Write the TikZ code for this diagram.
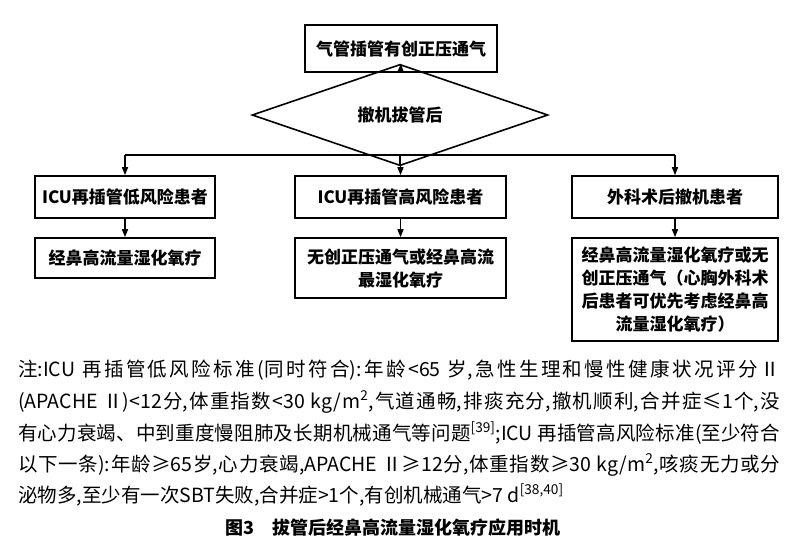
\documentclass[tikz,border=0pt]{standalone}
\usepackage{fontspec}
\setmainfont{Noto Sans CJK SC}
\usetikzlibrary{shapes.geometric,arrows.meta}
\XeTeXlinebreaklocale "zh"
\XeTeXlinebreakskip=0pt plus 2pt
\begin{document}
\begin{tikzpicture}[x=1pt,y=-1pt,
 box/.style={draw,line width=1.6pt,inner sep=0pt,font=\fontsize{17}{23}\selectfont\bfseries,align=center},
 arr/.style={line width=1.3pt,-{Triangle[length=8pt,width=6pt]}},
 ln/.style={line width=1.3pt},
 note/.style={anchor=base west,inner sep=0pt,text width=762pt,align=justify,font=\fontsize{19.5}{31}\selectfont}]
\useasboundingbox[fill=white] (0,0) rectangle (786,544);

\node[box,minimum width=192pt,minimum height=47pt] (top) at (401,48.5) {气管插管有创正压通气};
\node[box,diamond,minimum width=296pt,minimum height=54pt] (dia) at (400,115) {撤机拔管后};

\node[box,minimum width=180pt,minimum height=42pt] (b1) at (125,197) {ICU再插管低风险患者};
\node[box,minimum width=211pt,minimum height=42pt] (b2) at (400.5,197) {ICU再插管高风险患者};
\node[box,minimum width=206pt,minimum height=42pt] (b3) at (675,197) {外科术后撤机患者};

\node[box,minimum width=180pt,minimum height=40pt] (b4) at (125,258) {经鼻高流量湿化氧疗};
\node[box,minimum width=211pt,minimum height=60pt] (b5) at (400.5,268) {无创正压通气或经鼻高流\\最湿化氧疗};
\node[box,minimum width=206pt,minimum height=103pt] (b6) at (675,289.5) {经鼻高流量湿化氧疗或无\\创正压通气（心胸外科术\\后患者可优先考虑经鼻高\\流量湿化氧疗）};

\coordinate (j) at (400,155);
\draw[arr] (top) -- (dia);
\draw[ln] (dia.south) -- (j);
\draw[ln] (j -| b1.north) -- (j -| b3.north);
\draw[arr] (j -| b1.north) -- (b1.north);
\draw[arr] (j -| b2.north) -- (b2.north);
\draw[arr] (j -| b3.north) -- (b3.north);
\draw[arr] (b1) -- (b4);
\draw[arr] (b2) -- (b5);
\draw[arr] (b3) -- (b6);

\node[note] (n1) at (18,376) {\parfillskip=0pt 注:ICU 再插管低风险标准(同时符合):年龄<65 岁,急性生理和慢性健康状况评分Ⅱ\par};
\node[note] (n2) at (18,408) {\parfillskip=0pt (APACHE Ⅱ)<12分,体重指数<30 kg/m\textsuperscript{2},气道通畅,排痰充分,撤机顺利,合并症≤1个,没\par};
\node[note] (n3) at (18,440) {\parfillskip=0pt 有心力衰竭、中到重度慢阻肺及长期机械通气等问题\textsuperscript{[39]};ICU 再插管高风险标准(至少符合\par};
\node[note] (n4) at (18,471) {\parfillskip=0pt 以下一条):年龄≥65岁,心力衰竭,APACHE Ⅱ≥12分,体重指数≥30 kg/m\textsuperscript{2},咳痰无力或分\par};
\node[anchor=base west,inner sep=0pt,font=\fontsize{19.5}{31}\selectfont] (n5) at (18,502) {泌物多,至少有一次SBT失败,合并症>1个,有创机械通气>7 d\textsuperscript{[38,40]}};

\node[anchor=base,inner sep=0pt,font=\fontsize{18}{22}\selectfont\bfseries] (cap) at (393,534) {图3\quad 拔管后经鼻高流量湿化氧疗应用时机};
\end{tikzpicture}
\end{document}
